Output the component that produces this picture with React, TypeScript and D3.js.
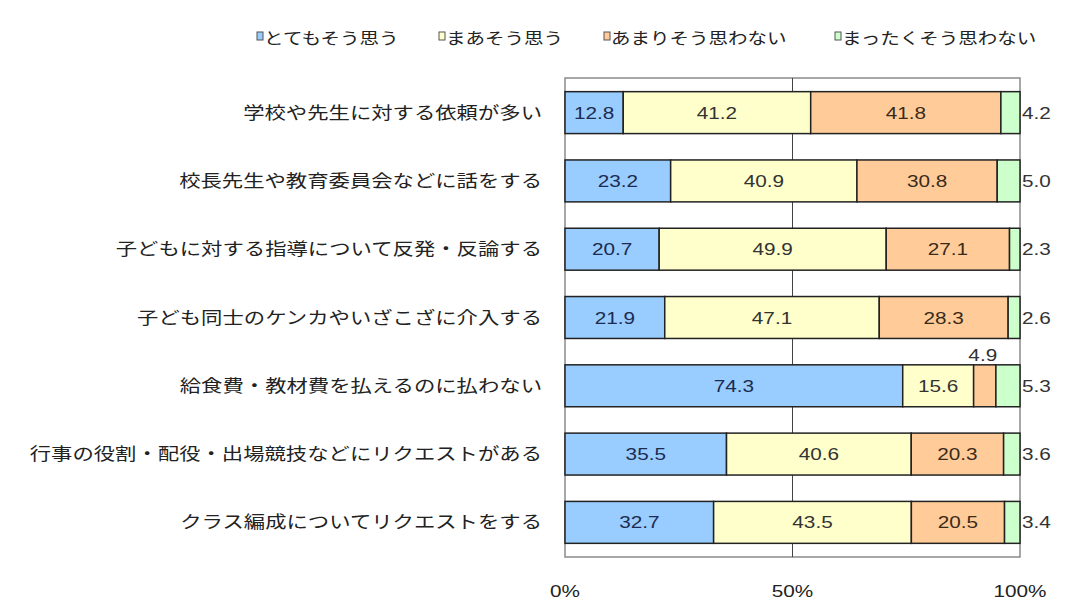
import React from "react";
import * as d3 from "d3";

const categories = [
  "学校や先生に対する依頼が多い",
  "校長先生や教育委員会などに話をする",
  "子どもに対する指導について反発・反論する",
  "子ども同士のケンカやいざこざに介入する",
  "給食費・教材費を払えるのに払わない",
  "行事の役割・配役・出場競技などにリクエストがある",
  "クラス編成についてリクエストをする",
];
const seriesNames = ["とてもそう思う", "まあそう思う", "あまりそう思わない", "まったくそう思わない"];
const totemo = [12.8, 23.2, 20.7, 21.9, 74.3, 35.5, 32.7];
const maa = [41.2, 40.9, 49.9, 47.1, 15.6, 40.6, 43.5];
const amari = [41.8, 30.8, 27.1, 28.3, 4.9, 20.3, 20.5];
const mattaku = [4.2, 5.0, 2.3, 2.6, 5.3, 3.6, 3.4];
const xTicks = [0, 50, 100];

const colors = ["#99CCFF", "#FFFFCC", "#FFCC99", "#CCFFCC"];
const textColors = ["#1c2b4f", "#333333", "#3a2a1a", "#333333"];

const W = 1080;
const H = 600;
const plot = { left: 565, right: 1020, top: 78, bottom: 557 };
const SX = 1.22;
const FONT = "'Noto Sans CJK JP', 'Noto Sans', sans-serif";
const NUMFONT = "'Liberation Sans', Arial, sans-serif";

export default function App() {
  const series = [totemo, maa, amari, mattaku];
  const rows = categories.map((c, i) => {
    const vals = series.map((s) => s[i]);
    const total = d3.sum(vals);
    let acc = 0;
    const segs = vals.map((v, k) => {
      const s = { k, v, x0: (acc / total) * 100, x1: ((acc + v) / total) * 100 };
      acc += v;
      return s;
    });
    return { c, segs };
  });

  const x = d3.scaleLinear().domain([0, 100]).range([plot.left, plot.right]);
  const y = d3
    .scaleBand<string>()
    .domain(categories)
    .range([plot.top, plot.bottom])
    .paddingInner(0.386)
    .paddingOuter(0.2);
  const bh = y.bandwidth();

  const legendX = [257, 439, 604, 835];

  return (
    <svg
      width={W}
      height={H}
      style={{ position: "absolute", left: 0, top: 0, background: "#fff" }}
    >
      <rect x={0} y={0} width={W} height={H} fill="#fff" />
      {/* legend */}
      {seriesNames.map((n, k) => (
        <g key={n}>
          <rect x={legendX[k]} y={32} width={6} height={8} fill={colors[k]} stroke="#555" strokeWidth={1} />
          <text
            transform={`translate(${legendX[k] + 7},${44}) scale(${SX},1)`}
            fontFamily={FONT}
            fontSize={16}
            fill="#222"
          >
            {n}
          </text>
        </g>
      ))}
      {/* plot area */}
      <rect
        x={plot.left}
        y={plot.top}
        width={plot.right - plot.left}
        height={plot.bottom - plot.top}
        fill="#fff"
        stroke="#8a8a8a"
        strokeWidth={1.5}
      />
      <line x1={x(50)} x2={x(50)} y1={plot.top} y2={plot.bottom} stroke="#444" strokeWidth={1} />
      {/* bars */}
      {rows.map((r) => {
        const y0 = y(r.c)!;
        return (
          <g key={r.c}>
            {r.segs.map((s) => (
              <rect
                key={s.k}
                x={x(s.x0)}
                y={y0}
                width={x(s.x1) - x(s.x0)}
                height={bh}
                fill={colors[s.k]}
                stroke="#222"
                strokeWidth={1.5}
              />
            ))}
            {r.segs.map((s) => {
              const v = s.v.toFixed(1);
              if (s.k === 3) {
                return (
                  <text
                    key={"t" + s.k}
                    transform={`translate(${plot.right + 2},${y0 + bh / 2 + 6}) scale(${SX},1)`}
                    fontFamily={NUMFONT}
                    fontSize={17}
                    fill="#333"
                  >
                    {v}
                  </text>
                );
              }
              const w = x(s.x1) - x(s.x0);
              const cx = (x(s.x0) + x(s.x1)) / 2;
              if (w < 30) {
                return (
                  <text
                    key={"t" + s.k}
                    transform={`translate(${cx - 2},${y0 - 4}) scale(${SX},1)`}
                    textAnchor="middle"
                    fontFamily={NUMFONT}
                    fontSize={17}
                    fill="#333"
                  >
                    {v}
                  </text>
                );
              }
              return (
                <text
                  key={"t" + s.k}
                  transform={`translate(${cx},${y0 + bh / 2 + 6}) scale(${SX},1)`}
                  textAnchor="middle"
                  fontFamily={NUMFONT}
                  fontSize={17}
                  fill={textColors[s.k]}
                >
                  {v}
                </text>
              );
            })}
            <text
              transform={`translate(542,${y0 + bh / 2 + 6}) scale(${SX},1)`}
              textAnchor="end"
              fontFamily={FONT}
              fontSize={17.5}
              fill="#222"
            >
              {r.c}
            </text>
          </g>
        );
      })}
      {/* x axis labels */}
      {xTicks.map((t) => (
        <text
          key={t}
          transform={`translate(${x(t)},${597}) scale(${SX},1)`}
          textAnchor="middle"
          fontFamily={NUMFONT}
          fontSize={17}
          fill="#222"
        >
          {t + "%"}
        </text>
      ))}
    </svg>
  );
}
